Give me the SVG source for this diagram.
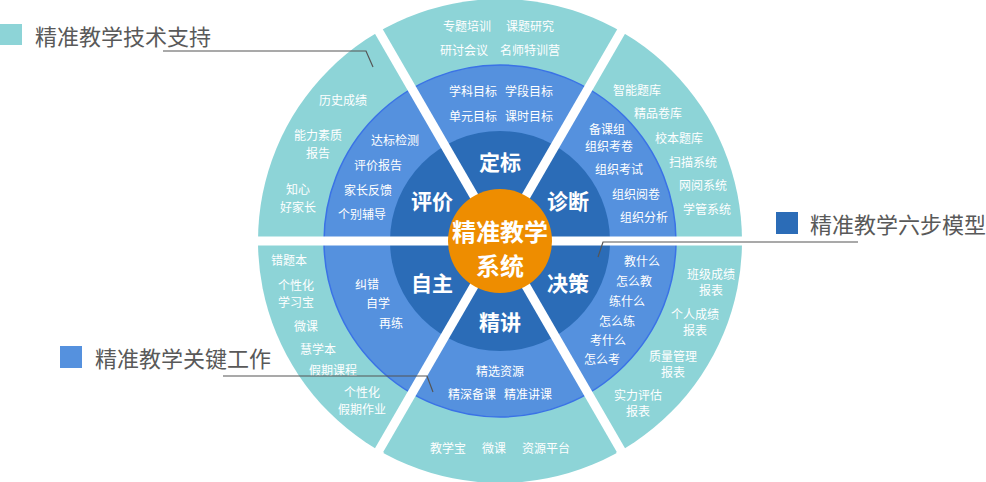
<svg xmlns="http://www.w3.org/2000/svg" width="986" height="482" viewBox="0 0 986 482">
<defs>
<style>
text{font-family:"Microsoft YaHei","Noto Sans CJK SC","Noto Sans",sans-serif;text-anchor:middle;dominant-baseline:central;fill:#fff}
.s{font-size:12px}
.b{font-size:21px;font-weight:bold}
.c{font-size:24px;font-weight:bold}
.lg{font-size:22px;fill:#595959;text-anchor:start}
.gap{stroke:#fff;stroke-width:9}
.ln{fill:none;stroke:#555;stroke-width:1.2}
</style>
</defs>
<rect width="986" height="482" fill="#fff"/>
<g id="rings">
<circle cx="500" cy="241" r="242" fill="#8dd4d7"/>
<circle cx="500" cy="241" r="176" fill="#5591de" stroke="#3a72e6" stroke-width="1.5"/>
<circle cx="500" cy="241" r="110" fill="#2b6cb7"/>
<line class="gap" x1="255" y1="241" x2="745" y2="241"/>
<line class="gap" x1="378" y1="30" x2="622" y2="452"/>
<line class="gap" x1="622" y1="30" x2="378" y2="452"/>
<line class="gap" x1="361" y1="0" x2="375" y2="24"/>
<line class="gap" x1="639" y1="0" x2="625" y2="24"/>
<line class="gap" x1="639" y1="482" x2="620" y2="450"/>
<line class="gap" x1="361" y1="482" x2="380" y2="450"/>
</g>
<g id="center">
<circle cx="500" cy="241" r="52" fill="#ee8d00"/>
<text class="c" x="500" y="230">精准教学</text>
<text class="c" x="500" y="264">系统</text>
</g>
<g id="dingbiao">
<text class="b" x="500" y="161">定标</text>
<text class="s" x="473" y="90">学科目标</text>
<text class="s" x="529" y="90">学段目标</text>
<text class="s" x="473" y="115">单元目标</text>
<text class="s" x="529" y="115">课时目标</text>
<text class="s" x="467" y="25">专题培训</text>
<text class="s" x="530" y="25">课题研究</text>
<text class="s" x="464" y="49">研讨会议</text>
<text class="s" x="530" y="49">名师特训营</text>
</g>
<g id="zhenduan">
<text class="b" x="568" y="200">诊断</text>
<text class="s" x="607" y="128">备课组</text>
<text class="s" x="609" y="145">组织考卷</text>
<text class="s" x="619" y="168">组织考试</text>
<text class="s" x="636" y="193">组织阅卷</text>
<text class="s" x="644" y="216">组织分析</text>
<text class="s" x="637" y="89">智能题库</text>
<text class="s" x="658" y="112">精品卷库</text>
<text class="s" x="679" y="137">校本题库</text>
<text class="s" x="693" y="161">扫描系统</text>
<text class="s" x="703" y="184">网阅系统</text>
<text class="s" x="707" y="208">学管系统</text>
</g>
<g id="juece">
<text class="b" x="568" y="282">决策</text>
<text class="s" x="642" y="260">教什么</text>
<text class="s" x="634" y="280">怎么教</text>
<text class="s" x="627" y="300">练什么</text>
<text class="s" x="617" y="320">怎么练</text>
<text class="s" x="608" y="339">考什么</text>
<text class="s" x="602" y="358">怎么考</text>
<text class="s" x="711" y="273">班级成绩</text>
<text class="s" x="711" y="289">报表</text>
<text class="s" x="695" y="313">个人成绩</text>
<text class="s" x="695" y="329">报表</text>
<text class="s" x="673" y="355">质量管理</text>
<text class="s" x="673" y="371">报表</text>
<text class="s" x="638" y="394">实力评估</text>
<text class="s" x="638" y="410">报表</text>
</g>
<g id="jingjiang">
<text class="b" x="500" y="321">精讲</text>
<text class="s" x="500" y="370">精选资源</text>
<text class="s" x="472" y="393">精深备课</text>
<text class="s" x="528" y="393">精准讲课</text>
<text class="s" x="448" y="447">教学宝</text>
<text class="s" x="494" y="447">微课</text>
<text class="s" x="546" y="447">资源平台</text>
</g>
<g id="zizhu">
<text class="b" x="432" y="282">自主</text>
<text class="s" x="367" y="283">纠错</text>
<text class="s" x="378" y="302">自学</text>
<text class="s" x="391" y="322">再练</text>
<text class="s" x="289" y="259">错题本</text>
<text class="s" x="296" y="284">个性化</text>
<text class="s" x="296" y="301">学习宝</text>
<text class="s" x="306" y="325">微课</text>
<text class="s" x="318" y="348">慧学本</text>
<text class="s" x="333" y="369">假期课程</text>
<text class="s" x="362" y="391">个性化</text>
<text class="s" x="362" y="408">假期作业</text>
</g>
<g id="pingjia">
<text class="b" x="432" y="200">评价</text>
<text class="s" x="395" y="139">达标检测</text>
<text class="s" x="378" y="164">评价报告</text>
<text class="s" x="368" y="189">家长反馈</text>
<text class="s" x="362" y="213">个别辅导</text>
<text class="s" x="343" y="99">历史成绩</text>
<text class="s" x="318" y="134">能力素质</text>
<text class="s" x="318" y="152">报告</text>
<text class="s" x="298" y="188">知心</text>
<text class="s" x="298" y="206">好家长</text>
</g>
<g id="legend-support">
<rect x="0" y="24" width="22" height="21" fill="#8dd4d7"/>
<text class="lg" x="35" y="35">精准教学技术支持</text>
</g>
<g id="legend-model">
<rect x="776" y="212" width="22" height="22" fill="#2b6cb7"/>
<text class="lg" x="810" y="223">精准教学六步模型</text>
</g>
<g id="legend-work">
<rect x="60" y="346" width="22" height="22" fill="#5591de"/>
<text class="lg" x="95" y="357">精准教学关键工作</text>
</g>
<g id="connectors">
<polyline class="ln" points="163,51 366,51 373,67"/>
<polyline class="ln" points="858,242 603,242 598,257"/>
<polyline class="ln" points="223,376 427,376 433,392"/>
</g>
</svg>
